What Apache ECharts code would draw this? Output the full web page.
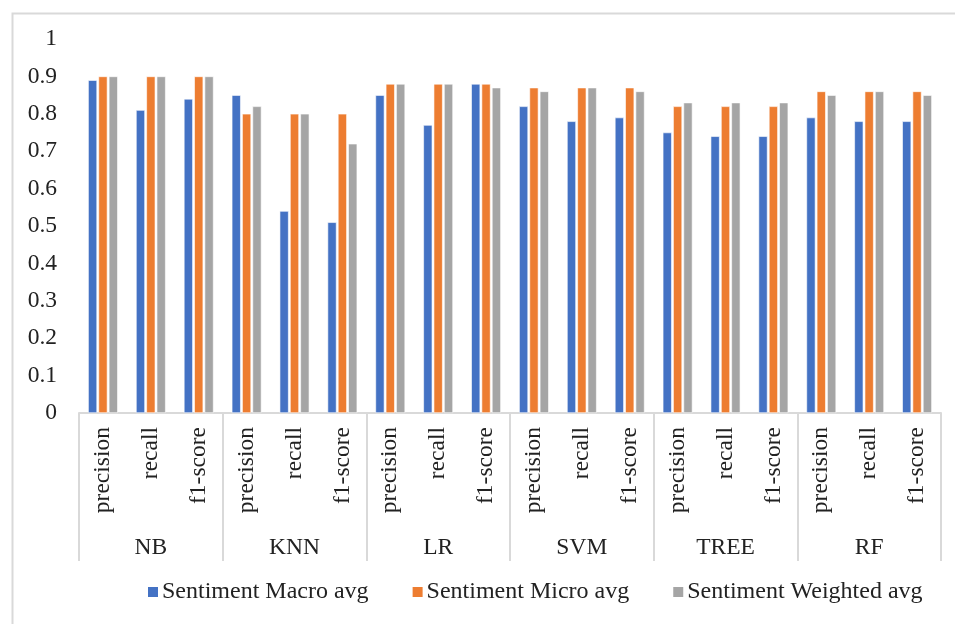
<!DOCTYPE html>
<html>
<head>
<meta charset="utf-8">
<script src="https://cdn.jsdelivr.net/npm/echarts@6/dist/echarts.min.js"></script>
<style>
  html, body { margin: 0; padding: 0; background: #fff; }
  #chart { width: 955px; height: 624px; }
</style>
</head>
<body>
<div id="chart"></div>
<script>
// Classifiers and their metric rows
const models = ['NB', 'KNN', 'LR', 'SVM', 'TREE', 'RF'];
const metrics = ['precision', 'recall', 'f1-score'];

// Scores per model, in metric order (precision, recall, f1-score)
const macroAvg    = [0.89, 0.81, 0.84,  0.85, 0.54, 0.51,  0.85, 0.77, 0.88,  0.82, 0.78, 0.79,  0.75, 0.74, 0.74,  0.79, 0.78, 0.78];
const microAvg    = [0.90, 0.90, 0.90,  0.80, 0.80, 0.80,  0.88, 0.88, 0.88,  0.87, 0.87, 0.87,  0.82, 0.82, 0.82,  0.86, 0.86, 0.86];
const weightedAvg = [0.90, 0.90, 0.90,  0.82, 0.80, 0.72,  0.88, 0.88, 0.87,  0.86, 0.87, 0.86,  0.83, 0.83, 0.83,  0.85, 0.86, 0.85];

const seriesNames = ['Sentiment Macro avg', 'Sentiment Micro avg', 'Sentiment Weighted avg'];
const seriesColors = ['#4472C4', '#ED7D31', '#A5A5A5'];

const categories = [];
models.forEach(m => metrics.forEach(k => categories.push(k)));

const FONT = '"Liberation Serif", "DejaVu Serif", serif';
const FS = 23.5;
const chart = echarts.init(document.getElementById('chart'));

const mkBar = (name, data, color) => ({
  name, type: 'bar', data,
  xAxisIndex: 0, yAxisIndex: 0,
  barWidth: 9, barGap: '15%',
  itemStyle: { color, borderColor: '#fff', borderWidth: 0.6 }
});

chart.setOption({
  backgroundColor: '#fff',
  animation: false,
  textStyle: { fontFamily: FONT },
  graphic: [{
    type: 'rect', left: 10, top: 11, z: -1,
    shape: { width: 980, height: 700 },
    style: { fill: 'none', stroke: '#d9d9d9', lineWidth: 2 }
  }],
  grid: { left: 79, right: 14, top: 39, bottom: 211 },
  legend: {
    left: 141, top: 575,
    itemWidth: 12, itemHeight: 12, itemGap: 42,
    icon: 'rect',
    textStyle: { fontFamily: FONT, fontSize: 24, color: '#222', padding: [0, 0, 0, -2] },
    data: seriesNames
  },
  xAxis: [{
    type: 'category', data: categories,
    axisLine: { lineStyle: { color: '#d9d9d9', width: 2 } },
    axisTick: { show: false },
    axisLabel: {
      interval: 0, rotate: 90, margin: 14,
      fontFamily: FONT, fontSize: FS, color: '#222'
    }
  }, {
    type: 'category', data: models, position: 'bottom',
    axisLine: { show: false },
    axisTick: { show: true, interval: 0, length: 148, lineStyle: { color: '#d9d9d9', width: 2 } },
    axisLabel: { interval: 0, margin: 123, fontFamily: FONT, fontSize: FS, color: '#222' }
  }],
  yAxis: {
    type: 'value', min: 0, max: 1, interval: 0.1,
    axisLine: { show: false },
    axisTick: { show: false },
    splitLine: { show: false },
    axisLabel: {
      margin: 22, fontFamily: FONT, fontSize: FS, color: '#222',
      formatter: v => String(Math.round(v * 10) / 10)
    }
  },
  series: [
    mkBar(seriesNames[0], macroAvg, seriesColors[0]),
    mkBar(seriesNames[1], microAvg, seriesColors[1]),
    mkBar(seriesNames[2], weightedAvg, seriesColors[2])
  ]
});
</script>
</body>
</html>
